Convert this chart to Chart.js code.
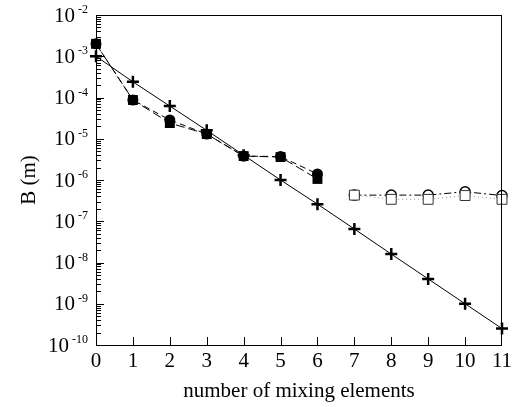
<!DOCTYPE html>
<html>
<head>
<meta charset="utf-8">
<script src="https://cdn.jsdelivr.net/npm/chart.js@4/dist/chart.umd.min.js"></script>
<style>
  body { margin: 0; background: #fff; }
</style>
</head>
<body>
<canvas id="chart" width="519" height="407"></canvas>
<script>
// number of mixing elements
var xLabels = ['0', '1', '2', '3', '4', '5', '6', '7', '8', '9', '10', '11'];
// decades shown on the y axis (10^e)
var yExponents = [-2, -3, -4, -5, -6, -7, -8, -9, -10];

// B (m) values
var plusX = [0, 1, 2, 3, 4, 5, 6, 7, 8, 9, 10, 11];
var plusB = [1e-3, 2.4e-4, 6.2e-5, 1.6e-5, 4e-6, 1e-6, 2.6e-7, 6.5e-8, 1.6e-8, 4e-9, 1e-9, 2.5e-10];

var fillSqX = [0, 1, 2, 3, 4, 5, 6];
var fillSqB = [2e-3, 8.7e-5, 2.4e-5, 1.3e-5, 3.8e-6, 3.6e-6, 1.06e-6];

var fillCircX = [0, 1, 2, 3, 4, 5, 6];
var fillCircB = [2e-3, 8.7e-5, 2.85e-5, 1.3e-5, 3.8e-6, 3.7e-6, 1.4e-6];

var openCircX = [7, 8, 9, 10, 11];
var openCircB = [4.3e-7, 4.3e-7, 4.3e-7, 5.2e-7, 4.2e-7];

var openSqX = [7, 8, 9, 10, 11];
var openSqB = [4.3e-7, 3.4e-7, 3.4e-7, 4.2e-7, 3.4e-7];

function pts(xs, ys) {
  return xs.map(function (x, i) { return { x: x, y: ys[i] }; });
}

var serif = 'Liberation Serif';

// frame, inside ticks and 10^n labels
var axisDecor = {
  id: 'axisDecor',
  afterDraw: function (chart) {
    var ctx = chart.ctx, a = chart.chartArea;
    var xs = chart.scales.x, ys = chart.scales.y;
    ctx.save();
    ctx.strokeStyle = '#000';
    ctx.lineWidth = 1;
    ctx.strokeRect(a.left + 0.5, a.top + 0.5, a.right - a.left - 1, a.bottom - a.top);

    ctx.beginPath();
    // y ticks, major and minor
    for (var e = -10; e < -2; e++) {
      for (var m = 1; m < 10; m++) {
        var py = Math.round(ys.getPixelForValue(m * Math.pow(10, e))) + 0.5;
        var len = m === 1 ? 8 : 5;
        ctx.moveTo(a.left, py);
        ctx.lineTo(a.left + len, py);
      }
    }
    // x ticks
    for (var i = 1; i < xLabels.length - 1; i++) {
      var px = Math.round(xs.getPixelForValue(i)) + 0.5;
      ctx.moveTo(px, a.bottom);
      ctx.lineTo(px, a.bottom - 8);
    }
    ctx.stroke();

    // y labels
    ctx.fillStyle = '#000';
    ctx.textBaseline = 'middle';
    ctx.textAlign = 'left';
    yExponents.forEach(function (e) {
      var py = ys.getPixelForValue(Math.pow(10, e));
      var sup = String(e);
      ctx.font = '21px "' + serif + '"';
      var wBase = ctx.measureText('10').width;
      ctx.font = '12px "' + serif + '"';
      var wSup = ctx.measureText(sup).width;
      var right = 88;
      var x0 = right - wSup - 3 - wBase;
      ctx.font = '21px "' + serif + '"';
      ctx.fillText('10', x0, py + 1);
      ctx.font = '12px "' + serif + '"';
      ctx.fillText(sup, x0 + wBase + 3, py - 5);
    });
    ctx.restore();
  }
};

var ctx = document.getElementById('chart').getContext('2d');
var chart = new Chart(ctx, {
  type: 'line',
  data: {
    datasets: [
      {
        data: pts(openSqX, openSqB),
        borderColor: '#999',
        borderWidth: 1,
        borderDash: [1, 3],
        pointStyle: 'rect',
        pointRadius: 7,
        pointBorderWidth: 1,
        pointBorderColor: '#333',
        pointBackgroundColor: '#fff'
      },
      {
        data: pts(openCircX, openCircB),
        borderColor: '#000',
        borderWidth: 1,
        borderDash: [7, 3, 2, 3],
        pointStyle: 'circle',
        pointRadius: 5,
        pointBorderWidth: 1.5,
        pointBorderColor: '#000',
        pointBackgroundColor: 'rgba(255,255,255,0)'
      },
      {
        data: pts(fillCircX, fillCircB),
        borderColor: '#000',
        borderWidth: 1,
        borderDash: [6, 4],
        pointStyle: 'circle',
        pointRadius: 5.5,
        pointBorderWidth: 0,
        pointBackgroundColor: '#000'
      },
      {
        data: pts(fillSqX, fillSqB),
        borderColor: '#000',
        borderWidth: 1,
        borderDash: [9, 4],
        pointStyle: 'rect',
        pointRadius: 7,
        pointBorderWidth: 0,
        pointBackgroundColor: '#000'
      },
      {
        data: pts(plusX, plusB),
        borderColor: '#000',
        borderWidth: 1,
        pointStyle: 'cross',
        pointRadius: 6,
        pointBorderWidth: 2.5,
        pointBorderColor: '#000'
      }
    ]
  },
  options: {
    responsive: false,
    animation: false,
    devicePixelRatio: 1,
    clip: false,
    layout: { padding: { left: 0, right: 17, top: 15, bottom: 0 } },
    plugins: { legend: { display: false }, tooltip: { enabled: false } },
    elements: { line: { tension: 0, fill: false } },
    scales: {
      x: {
        type: 'linear',
        min: 0,
        max: 11,
        grid: { display: false, drawTicks: false },
        border: { display: false },
        ticks: {
          stepSize: 1,
          padding: 4,
          color: '#000',
          font: { family: serif, size: 21 },
          callback: function (v) { return xLabels[v]; }
        },
        title: {
          display: true,
          text: 'number of mixing elements',
          color: '#000',
          font: { family: serif, size: 21 },
          padding: { top: 0, bottom: 3 }
        },
        afterFit: function (s) { s.height = 62; }
      },
      y: {
        type: 'logarithmic',
        min: 1e-10,
        max: 1e-2,
        grid: { display: false, drawTicks: false },
        border: { display: false },
        ticks: { display: false },
        title: {
          display: true,
          text: 'B (m)',
          color: '#000',
          font: { family: serif, size: 21 },
          padding: { top: 17, bottom: 0 }
        },
        afterFit: function (s) { s.width = 96; }
      }
    }
  },
  plugins: [axisDecor]
});
</script>
</body>
</html>
